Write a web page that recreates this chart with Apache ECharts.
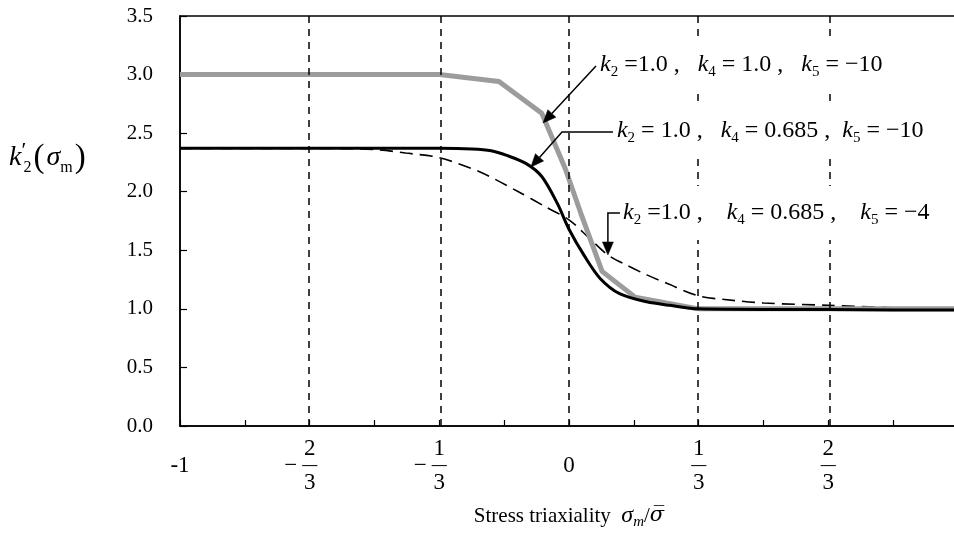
<!DOCTYPE html>
<html><head><meta charset="utf-8">
<script src="https://cdn.jsdelivr.net/npm/echarts@6/dist/echarts.min.js"></script>
<style>html,body{margin:0;padding:0;background:#fff}#c{width:954px;height:535px}</style>
</head><body><div id="c"></div>
<script>
// ---- data ----
const grayX = [-1, -0.833, -0.667, -0.5, -0.333, -0.18, -0.07, -0.01, 0.03, 0.085, 0.17, 0.25, 0.333, 0.5, 0.667, 0.833, 1];
const grayY = [3.0, 3.0, 3.0, 3.0, 3.0, 2.94, 2.67, 2.2, 1.82, 1.32, 1.1, 1.05, 1.0, 1.0, 1.0, 1.0, 1.0];
const blackX = [-1, -0.667, -0.333, -0.25, -0.2, -0.16, -0.11, -0.07, -0.03, 0, 0.04, 0.08, 0.13, 0.2, 0.26, 0.333, 0.5, 0.667, 0.833, 1];
const blackY = [2.37, 2.37, 2.37, 2.365, 2.35, 2.31, 2.24, 2.13, 1.9, 1.68, 1.45, 1.26, 1.13, 1.06, 1.03, 1.0, 0.995, 0.995, 0.99, 0.99];
const dashX = [-1, -0.667, -0.5, -0.42, -0.333, -0.23, -0.13, -0.06, 0, 0.05, 0.1, 0.15, 0.2, 0.25, 0.333, 0.4, 0.5, 0.667, 0.833, 1];
const dashY = [2.37, 2.37, 2.36, 2.33, 2.29, 2.17, 2.0, 1.87, 1.76, 1.61, 1.46, 1.37, 1.29, 1.22, 1.11, 1.08, 1.05, 1.03, 1.01, 1.0];
const xTickValues = [-1, -2/3, -1/3, 0, 1/3, 2/3, 1];
const xTickLabels = ['-1', '−2/3', '−1/3', '0', '1/3', '2/3', '1'];
const vLines = [-2/3, -1/3, 0, 1/3, 2/3];
const annLabels = [
  '{k|k}{s|2}{t| =1.0 ,   }{k|k}{s|4}{t| = 1.0 ,   }{k|k}{s|5}{t| = −10}',
  '{k|k}{s|2}{t| = 1.0 ,   }{k|k}{s|4}{t| = 0.685 ,  }{k|k}{s|5}{t| = −10}',
  '{k|k}{s|2}{t| =1.0 ,    }{k|k}{s|4}{t| = 0.685 ,    }{k|k}{s|5}{t| = −4}'
];
const annAnchors = [[0.0694, 3.085], [0.113, 2.523], [0.1285, 1.818]];
const arrowPaths = [
  [[0.0694, 3.073], [-0.0668, 2.587]],
  [[0.113, 2.51], [-0.018, 2.51], [-0.098, 2.21]],
  [[0.131, 1.818], [0.100, 1.818], [0.100, 1.46]]
];

const FONT = 'Liberation Serif';
const zip = (xs, ys) => xs.map((x, i) => [x, ys[i]]);

function fmtTick(s) {
  if (s.indexOf('/') < 0) return '{n| }\n{w|' + s + '}\n{n| }';
  const neg = s[0] === '−';
  const body = neg ? s.slice(1) : s;
  const p = body.split('/');
  if (neg) return '{sp|}{n|' + p[0] + '}{sp|}\n{mi|−}{bar|—}{sp|}\n{sp|}{n|' + p[1] + '}{sp|}';
  return '{n|' + p[0] + '}\n{bar|—}\n{n|' + p[1] + '}';
}

const chart = echarts.init(document.getElementById('c'), null, {renderer: 'canvas'});
const common = {fontFamily: FONT, color: '#000', fontSize: 23, lineHeight: 17};
chart.setOption({
  animation: false,
  backgroundColor: '#fff',
  grid: {left: 180, right: -4, top: 16, bottom: 109, show: true, borderColor: '#000', borderWidth: 1.5,
         containLabel: false, outerBoundsMode: 'none'},
  xAxis: {
    type: 'value', min: -1, max: 1, interval: 1/6,
    axisLine: {show: true, onZero: false, lineStyle: {color: '#000', width: 1.5}},
    axisTick: {show: true, inside: true, length: 6, lineStyle: {color: '#000', width: 1.2}},
    splitLine: {show: false},
    axisLabel: {
      margin: 14, fontFamily: FONT, color: '#000', fontSize: 23, lineHeight: 17,
      showMinLabel: true, showMaxLabel: true, hideOverlap: false,
      formatter: function (v) {
        for (let i = 0; i < xTickValues.length; i++) if (Math.abs(v - xTickValues[i]) < 1e-6) return fmtTick(xTickLabels[i]);
        return '';
      },
      rich: {
        n: Object.assign({}, common, {width: 14, align: 'center'}),
        w: Object.assign({}, common, {align: 'center'}),
        sp: Object.assign({}, common, {width: 18}),
        mi: Object.assign({}, common, {width: 18, align: 'left'}),
        bar: Object.assign({}, common, {width: 15, align: 'center', fontSize: 15, fontWeight: 'bold'})
      }
    },
    name: '{t|Stress triaxiality  }{g|σ}{sub|m}{t|/}{gb|σ\u0305}',
    nameLocation: 'middle', nameGap: 76,
    nameTextStyle: {
      fontFamily: FONT, color: '#000', fontSize: 21,
      rich: {
        t: {fontFamily: FONT, fontSize: 21, color: '#000', lineHeight: 28},
        g: {fontFamily: FONT, fontSize: 24, fontStyle: 'italic', color: '#000', lineHeight: 28},
        gb: {fontFamily: 'DejaVu Serif', fontSize: 21, fontStyle: 'italic', color: '#000', lineHeight: 28},
        sub: {fontFamily: FONT, fontSize: 15, fontStyle: 'italic', color: '#000', lineHeight: 16, verticalAlign: 'bottom'}
      }
    }
  },
  yAxis: {
    type: 'value', min: 0, max: 3.5, interval: 0.5,
    axisLine: {show: true, onZero: false, lineStyle: {color: '#000', width: 1.5}},
    axisTick: {show: true, inside: true, length: 7, lineStyle: {color: '#000', width: 1.2}},
    splitLine: {show: false},
    axisLabel: {margin: 27, fontFamily: FONT, color: '#000', fontSize: 21, formatter: v => v.toFixed(1)}
  },
  series: [
    {
      type: 'line', data: [], silent: true,
      markLine: {
        silent: true, symbol: ['none', 'none'], label: {show: false},
        lineStyle: {color: '#000', type: [7, 6], width: 1.5},
        data: vLines.map(v => ({xAxis: v}))
      }
    },
    {type: 'line', data: zip(dashX, dashY), showSymbol: false, smooth: 0.3,
     lineStyle: {color: '#000', width: 1.6, type: [13, 7]}, z: 3},
    {type: 'line', data: zip(grayX, grayY), showSymbol: false,
     lineStyle: {color: '#9c9c9c', width: 5}, z: 4},
    {type: 'line', data: zip(blackX, blackY), showSymbol: false, smooth: 0.3,
     lineStyle: {color: '#000', width: 3}, z: 5}
  ]
});

// annotations placed from data coordinates
const toPx = p => chart.convertToPixel({gridIndex: 0}, p);
const graphics = [];
const annRich = {
  k: {fontFamily: FONT, fontSize: 24, fontStyle: 'italic', fill: '#000', lineHeight: 30, verticalAlign: 'middle'},
  s: {fontFamily: FONT, fontSize: 15, fill: '#000', lineHeight: 17, verticalAlign: 'bottom'},
  t: {fontFamily: FONT, fontSize: 24, fill: '#000', lineHeight: 30, verticalAlign: 'middle'}
};
annLabels.forEach((txt, i) => {
  const p = toPx(annAnchors[i]);
  graphics.push({
    type: 'text', x: p[0], y: p[1], z: 100,
    style: {text: txt, rich: annRich, align: 'left', verticalAlign: 'middle',
            backgroundColor: '#fff', padding: [12, 4, 12, 4], fill: '#000', font: '24px ' + FONT}
  });
});
arrowPaths.forEach(path => {
  const pts = path.map(toPx);
  const n = pts.length;
  const tip = pts[n - 1], prev = pts[n - 2];
  const dx = tip[0] - prev[0], dy = tip[1] - prev[1];
  const L = Math.sqrt(dx * dx + dy * dy);
  const ux = dx / L, uy = dy / L;
  const hl = 13, hw = 5.5;
  const bx = tip[0] - ux * hl, by = tip[1] - uy * hl;
  const linePts = pts.slice(0, n - 1).concat([[bx, by]]);
  graphics.push({type: 'polyline', z: 110, shape: {points: linePts}, style: {stroke: '#000', lineWidth: 1.5, fill: null}});
  graphics.push({type: 'polygon', z: 110, shape: {points: [tip, [bx - uy * hw, by + ux * hw], [bx + uy * hw, by - ux * hw]]},
                 style: {fill: '#000', stroke: '#000', lineWidth: 0.5}});
});
// y-axis title
graphics.push({
  type: 'text', x: 9, y: 158, z: 100,
  style: {
    text: '{k|k}{p|′}{s|2}{b|(}{g|σ}{s|m}{b|)}', align: 'left', verticalAlign: 'middle',
    rich: {
      k: {fontFamily: FONT, fontSize: 28, fontStyle: 'italic', fill: '#000', lineHeight: 36, verticalAlign: 'middle'},
      p: {fontFamily: FONT, fontSize: 22, fill: '#000', lineHeight: 30, verticalAlign: 'top', width: 2},
      s: {fontFamily: FONT, fontSize: 16, fill: '#000', lineHeight: 20, verticalAlign: 'bottom'},
      b: {fontFamily: FONT, fontSize: 33, fill: '#000', lineHeight: 36, verticalAlign: 'middle', padding: [0, 2, 0, 2]},
      g: {fontFamily: FONT, fontSize: 28, fontStyle: 'italic', fill: '#000', lineHeight: 36, verticalAlign: 'middle'}
    }
  }
});
chart.setOption({graphic: graphics});
</script></body></html>
